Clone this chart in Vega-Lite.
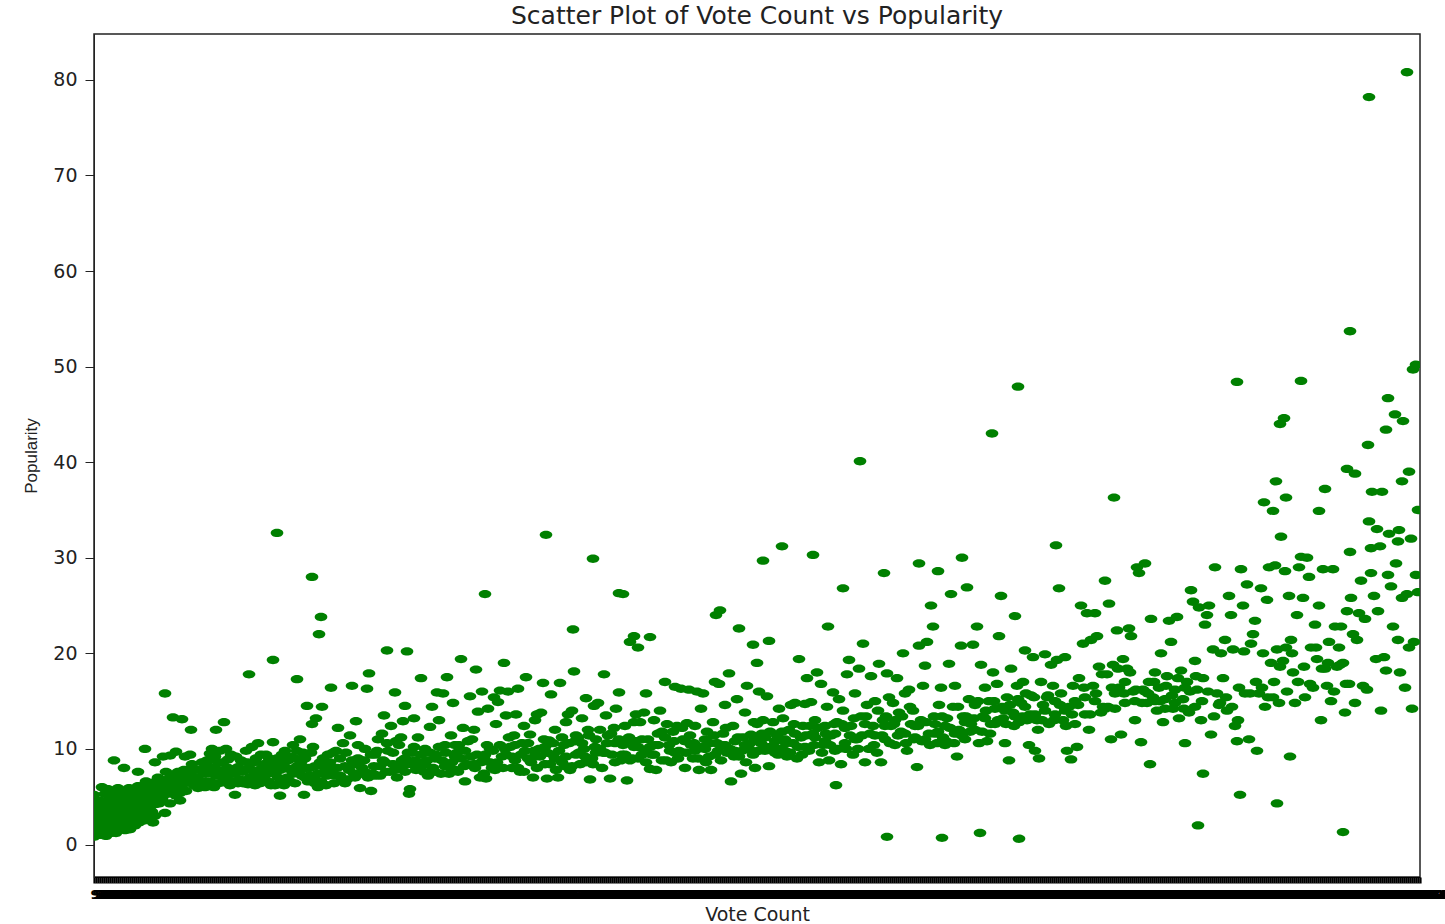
{"$schema":"https://vega.github.io/schema/vega-lite/v6.json","autosize":{"type":"none"},"width":1326,"height":843,"padding":{"left":94,"top":34,"right":25,"bottom":47},"background":"white","title":{"text":"Scatter Plot of Vote Count vs Popularity","font":"DejaVu Sans","fontSize":25,"fontWeight":"normal","color":"#222","offset":5},"config":{"view":{"stroke":"#222","strokeWidth":1.5}},"data":{"values":[
{"x":1407,"y":80.8},{"x":1369,"y":78.2},{"x":1350,"y":53.7},{"x":1416,"y":50.2},{"x":1413,"y":49.7},{"x":1388,"y":46.7},{"x":1395,"y":45},{"x":1403,"y":44.3},{"x":1386,"y":43.4},{"x":1368,"y":41.8},{"x":1301,"y":48.5},{"x":1237,"y":48.4},{"x":1018,"y":47.9},{"x":992,"y":43},{"x":860,"y":40.1},{"x":1284,"y":44.6},{"x":1280,"y":44},{"x":1409,"y":39},{"x":1347,"y":39.3},{"x":1355,"y":38.8},{"x":1402,"y":38},{"x":1276,"y":38},{"x":1114,"y":36.3},{"x":1286,"y":36.3},{"x":1264,"y":35.8},{"x":1273,"y":34.9},{"x":1319,"y":34.9},{"x":1325,"y":37.2},{"x":1372,"y":36.9},{"x":1382,"y":36.9},{"x":1418,"y":35},{"x":1369,"y":33.8},{"x":1377,"y":33},{"x":1389,"y":32.5},{"x":1399,"y":32.9},{"x":1411,"y":32},{"x":1398,"y":31.7},{"x":1380,"y":31.2},{"x":1371,"y":31},{"x":1350,"y":30.6},{"x":277,"y":32.6},{"x":546,"y":32.4},{"x":593,"y":29.9},{"x":782,"y":31.2},{"x":763,"y":29.7},{"x":813,"y":30.3},{"x":1056,"y":31.3},{"x":962,"y":30},{"x":919,"y":29.4},{"x":884,"y":28.4},{"x":938,"y":28.6},{"x":843,"y":26.8},{"x":312,"y":28},{"x":321,"y":23.8},{"x":319,"y":22},{"x":485,"y":26.2},{"x":619,"y":26.3},{"x":623,"y":26.2},{"x":573,"y":22.5},{"x":630,"y":21.2},{"x":634,"y":21.8},{"x":650,"y":21.7},{"x":638,"y":20.6},{"x":720,"y":24.5},{"x":716,"y":24},{"x":739,"y":22.6},{"x":769,"y":21.3},{"x":753,"y":20.9},{"x":828,"y":22.8},{"x":757,"y":19},{"x":273,"y":19.3},{"x":249,"y":17.8},{"x":297,"y":17.3},{"x":387,"y":20.3},{"x":407,"y":20.2},{"x":165,"y":15.8},{"x":173,"y":13.3},{"x":182,"y":13.1},{"x":191,"y":12},{"x":224,"y":12.8},{"x":216,"y":12},{"x":145,"y":10},{"x":114,"y":8.8},{"x":124,"y":8},{"x":138,"y":7.6},{"x":155,"y":8.6},{"x":163,"y":9.2},{"x":170,"y":9.3},{"x":176,"y":9.7},{"x":185,"y":9.2},{"x":190,"y":9.4},
{"x":887,"y":0.8},{"x":942,"y":0.7},{"x":980,"y":1.2},{"x":1019,"y":0.6},{"x":1198,"y":2},{"x":1343,"y":1.3},{"x":1277,"y":4.3},{"x":1240,"y":5.2},{"x":1203,"y":7.4},{"x":1290,"y":9.2},{"x":1150,"y":8.4},{"x":836,"y":6.2},
{"x":94,"y":5.2},{"x":94,"y":0.8},{"x":94,"y":1.5},{"x":94,"y":2.3},{"x":94,"y":3.1},{"x":94,"y":3.8},{"x":98,"y":1},{"x":98,"y":1.8},{"x":98,"y":2.6},{"x":98,"y":3.4},{"x":98,"y":4.2},{"x":102,"y":6},{"x":102,"y":1},{"x":102,"y":1.7},{"x":102,"y":2.6},{"x":102,"y":3.5},{"x":104,"y":4.4},{"x":106,"y":0.9},{"x":107,"y":2},{"x":107,"y":3},{"x":107,"y":3.9},{"x":108,"y":5.8},{"x":110,"y":4.8},{"x":111,"y":1.2},{"x":112,"y":2.4},{"x":112,"y":3.4},{"x":114,"y":5.4},{"x":116,"y":1.2},{"x":116,"y":2.1},{"x":116,"y":3.1},{"x":116,"y":4.1},{"x":118,"y":5.9},{"x":120,"y":1.6},{"x":121,"y":2.7},{"x":121,"y":3.6},{"x":122,"y":4.7},{"x":124,"y":5.5},{"x":125,"y":1.5},{"x":126,"y":2.2},{"x":126,"y":3.2},{"x":127,"y":4.2},{"x":129,"y":5.9},{"x":130,"y":1.6},{"x":131,"y":2.6},{"x":131,"y":3.7},{"x":132,"y":4.8},{"x":134,"y":5.6},{"x":135,"y":2},{"x":136,"y":3},{"x":136,"y":4.2},{"x":138,"y":6.1},{"x":139,"y":2.3},{"x":140,"y":3.4},{"x":141,"y":5},{"x":142,"y":4.2},{"x":144,"y":2.5},{"x":145,"y":3.2},{"x":145,"y":5.9},{"x":146,"y":6.6},{"x":148,"y":4.4},{"x":149,"y":2.6},{"x":150,"y":3.6},{"x":151,"y":5.2},{"x":152,"y":6.3},{"x":153,"y":2.3},{"x":155,"y":4.2},{"x":155,"y":3},{"x":157,"y":5.5},{"x":158,"y":7},{"x":160,"y":6.3},{"x":162,"y":4.8},{"x":165,"y":3.3},{"x":165,"y":6},{"x":166,"y":7.6},{"x":168,"y":5.3},{"x":170,"y":4.3},{"x":172,"y":6.4},{"x":174,"y":7.3},{"x":176,"y":5.1},{"x":178,"y":6},{"x":180,"y":4.6},{"x":182,"y":6.8},{"x":184,"y":7.8},{"x":186,"y":5.6},{"x":188,"y":6.5},{"x":190,"y":7.5},{"x":192,"y":8.4},{"x":194,"y":6.2},{"x":196,"y":7},{"x":198,"y":5.9},{"x":200,"y":7.8},{"x":202,"y":8.6},{"x":204,"y":6.6},{"x":206,"y":7.4},{"x":208,"y":8.2},{"x":210,"y":9.5},{"x":212,"y":10},{"x":214,"y":6},{"x":216,"y":7.2},{"x":218,"y":8.6},{"x":220,"y":9.8},{"x":222,"y":6.5},{"x":224,"y":7.8},{"x":226,"y":10},{"x":228,"y":8.9},{"x":230,"y":6.2},{"x":232,"y":7.4},{"x":235,"y":5.2},{"x":236,"y":9.2},{"x":238,"y":8.1},{"x":240,"y":6.8},{"x":243,"y":7.6},{"x":246,"y":9.8},{"x":248,"y":6.3},{"x":250,"y":8.5},{"x":252,"y":10.2},{"x":254,"y":7.2},{"x":256,"y":9},{"x":258,"y":10.6},{"x":260,"y":6.4},{"x":262,"y":8},{"x":264,"y":7},{"x":266,"y":9.4},{"x":268,"y":6.6},{"x":270,"y":8.3},{"x":273,"y":10.7},{"x":275,"y":7.4},{"x":277,"y":9},{"x":280,"y":5.1},{"x":281,"y":6.5},{"x":283,"y":8.4},{"x":285,"y":9.8},{"x":287,"y":7},{"x":289,"y":7.9},{"x":291,"y":9.2},{"x":293,"y":10.4},{"x":295,"y":6.4},{"x":297,"y":8.2},{"x":300,"y":11},{"x":302,"y":7.2},{"x":304,"y":5.2},{"x":305,"y":9},{"x":307,"y":14.5},{"x":308,"y":6.6},{"x":310,"y":8},{"x":312,"y":12.6},{"x":314,"y":7},{"x":316,"y":13.2},{"x":318,"y":6},{"x":320,"y":8.6},{"x":322,"y":14.4},{"x":324,"y":7.4},{"x":326,"y":6.2},{"x":328,"y":9.4},{"x":331,"y":16.4},{"x":332,"y":7.8},{"x":334,"y":6.4},{"x":336,"y":9.8},{"x":338,"y":12.2},{"x":340,"y":7.2},{"x":343,"y":10.6},{"x":345,"y":8.2},{"x":347,"y":6.8},{"x":350,"y":11.4},{"x":352,"y":16.6},{"x":354,"y":7.4},{"x":356,"y":12.9},{"x":358,"y":9},{"x":360,"y":5.9},{"x":362,"y":8},{"x":365,"y":10},{"x":367,"y":16.3},{"x":369,"y":17.9},{"x":371,"y":5.6},{"x":373,"y":7.4},{"x":375,"y":9.4},{"x":378,"y":11},{"x":380,"y":8.2},{"x":382,"y":11.6},{"x":384,"y":13.5},{"x":386,"y":7.6},{"x":388,"y":9.8},{"x":391,"y":12.4},{"x":393,"y":8.4},{"x":395,"y":15.9},{"x":397,"y":7},{"x":399,"y":10.4},{"x":401,"y":11.2},{"x":403,"y":12.9},{"x":405,"y":14.5},{"x":407,"y":8.4},{"x":409,"y":5.3},{"x":410,"y":5.8},{"x":412,"y":9.6},{"x":414,"y":13.2},{"x":416,"y":7.8},{"x":418,"y":11.2},{"x":421,"y":17.4},{"x":423,"y":8.6},{"x":425,"y":10},{"x":428,"y":7.2},{"x":430,"y":12.3},{"x":432,"y":14.4},{"x":435,"y":9},{"x":437,"y":15.9},{"x":439,"y":13},{"x":441,"y":7.4},{"x":443,"y":15.8},{"x":445,"y":10.4},{"x":447,"y":17.5},{"x":449,"y":8.2},{"x":451,"y":11.4},{"x":453,"y":14.8},{"x":455,"y":7.8},{"x":457,"y":9.6},{"x":459,"y":10.4},{"x":461,"y":19.4},{"x":463,"y":12.2},{"x":465,"y":6.6},{"x":467,"y":8.4},{"x":470,"y":15.5},{"x":472,"y":11},{"x":474,"y":12},{"x":476,"y":18.3},{"x":478,"y":13.9},{"x":480,"y":7},{"x":482,"y":16},{"x":484,"y":9},{"x":486,"y":6.9},{"x":488,"y":14.2},{"x":490,"y":10},{"x":492,"y":8},{"x":494,"y":15.4},{"x":496,"y":12.6},{"x":498,"y":14.9},{"x":500,"y":16.1},{"x":502,"y":9.2},{"x":504,"y":19},{"x":506,"y":13.5},{"x":508,"y":16},{"x":510,"y":10.2},{"x":512,"y":8},{"x":514,"y":11.4},{"x":516,"y":13.6},{"x":518,"y":16.3},{"x":520,"y":7.6},{"x":522,"y":10.6},{"x":524,"y":12.4},{"x":526,"y":17.5},{"x":528,"y":9},{"x":530,"y":11.5},{"x":533,"y":7},{"x":535,"y":13},{"x":537,"y":13.6},{"x":539,"y":10},{"x":541,"y":13.8},{"x":543,"y":16.9},{"x":545,"y":8.4},{"x":547,"y":6.9},{"x":549,"y":10.9},{"x":551,"y":15.7},{"x":553,"y":9.4},{"x":555,"y":12},{"x":558,"y":7},{"x":560,"y":16.9},{"x":562,"y":8.6},{"x":564,"y":10.4},{"x":566,"y":12.8},{"x":568,"y":13.6},{"x":570,"y":7.8},{"x":572,"y":14},{"x":574,"y":18.1},{"x":576,"y":9.4},{"x":578,"y":11.2},{"x":580,"y":8.4},{"x":582,"y":13.2},{"x":584,"y":10},{"x":586,"y":15.3},{"x":588,"y":12},{"x":590,"y":6.8},{"x":592,"y":9},{"x":594,"y":14.5},{"x":596,"y":11},{"x":598,"y":14.8},{"x":600,"y":10},{"x":602,"y":8},{"x":604,"y":17.8},{"x":606,"y":13.5},{"x":608,"y":11.4},{"x":610,"y":6.9},{"x":612,"y":9.4},{"x":614,"y":12.2},{"x":616,"y":14.2},{"x":619,"y":15.9},{"x":621,"y":8.8},{"x":623,"y":10.4},{"x":625,"y":12.4},{"x":627,"y":6.7},{"x":629,"y":11.2},{"x":632,"y":9},{"x":634,"y":12.8},{"x":636,"y":13.6},{"x":638,"y":10.2},{"x":640,"y":12.8},{"x":642,"y":9.4},{"x":644,"y":13.8},{"x":646,"y":15.8},{"x":648,"y":11},{"x":650,"y":7.9},{"x":652,"y":9.4},{"x":654,"y":13},{"x":656,"y":7.8},{"x":658,"y":11.6},{"x":660,"y":14},{"x":662,"y":8.8},{"x":665,"y":17},{"x":667,"y":12.6},{"x":669,"y":10.4},{"x":671,"y":8.6},{"x":673,"y":11.8},{"x":675,"y":16.5},{"x":677,"y":12.4},{"x":679,"y":9.8},{"x":681,"y":16.3},{"x":683,"y":11},{"x":685,"y":8},{"x":687,"y":12.7},{"x":689,"y":16.2},{"x":691,"y":10.4},{"x":693,"y":9},{"x":695,"y":12.4},{"x":697,"y":16},{"x":699,"y":7.8},{"x":701,"y":14.2},{"x":703,"y":15.8},{"x":705,"y":10},{"x":707,"y":11.8},{"x":709,"y":9.2},{"x":711,"y":7.8},{"x":713,"y":12.8},{"x":715,"y":17},{"x":717,"y":10.6},{"x":719,"y":16.8},{"x":721,"y":8.8},{"x":723,"y":11.6},{"x":725,"y":14.6},{"x":727,"y":9.6},{"x":729,"y":17.9},{"x":731,"y":6.6},{"x":733,"y":12.4},{"x":735,"y":10.8},{"x":737,"y":15.2},{"x":739,"y":9.2},{"x":741,"y":7.4},{"x":743,"y":11.2},{"x":745,"y":13.8},{"x":747,"y":16.6},{"x":749,"y":10},{"x":751,"y":11.5},{"x":753,"y":9.4},{"x":755,"y":8},{"x":757,"y":12.6},{"x":759,"y":16},{"x":761,"y":10.6},{"x":763,"y":13},{"x":765,"y":11.2},{"x":767,"y":15.5},{"x":769,"y":8.2},{"x":771,"y":10.2},{"x":773,"y":12.8},{"x":775,"y":9.6},{"x":777,"y":11.4},{"x":779,"y":14.2},{"x":781,"y":10},{"x":783,"y":13.2},{"x":785,"y":11},{"x":787,"y":9.2},{"x":789,"y":12},{"x":791,"y":14.6},{"x":793,"y":10.6},{"x":795,"y":14.8},{"x":797,"y":9},{"x":799,"y":19.4},{"x":801,"y":11.2},{"x":803,"y":12.4},{"x":805,"y":14.7},{"x":807,"y":17.4},{"x":809,"y":9.8},{"x":811,"y":14.9},{"x":813,"y":11.6},{"x":815,"y":13},{"x":817,"y":18},{"x":819,"y":8.6},{"x":821,"y":16.8},{"x":823,"y":10.4},{"x":825,"y":12.4},{"x":827,"y":14.4},{"x":829,"y":8.8},{"x":831,"y":11.4},{"x":833,"y":15.9},{"x":835,"y":9.8},{"x":837,"y":12.8},{"x":839,"y":15.2},{"x":841,"y":8.4},{"x":843,"y":14},{"x":845,"y":10.6},{"x":847,"y":17.8},{"x":849,"y":19.3},{"x":851,"y":12.4},{"x":853,"y":9.4},{"x":855,"y":15.8},{"x":857,"y":11},{"x":859,"y":18.4},{"x":861,"y":13.4},{"x":863,"y":21},{"x":865,"y":8.6},{"x":867,"y":14.6},{"x":869,"y":10},{"x":871,"y":17.6},{"x":873,"y":12.4},{"x":875,"y":15},{"x":877,"y":9.6},{"x":879,"y":18.9},{"x":881,"y":8.6},{"x":883,"y":13},{"x":885,"y":11},{"x":887,"y":17.9},{"x":889,"y":15.4},{"x":891,"y":12.4},{"x":893,"y":14.8},{"x":895,"y":10.4},{"x":897,"y":17.4},{"x":899,"y":13.8},{"x":901,"y":11.8},{"x":903,"y":20},{"x":905,"y":15.8},{"x":907,"y":9.8},{"x":909,"y":16.2},{"x":911,"y":12.6},{"x":913,"y":14},{"x":915,"y":11.2},{"x":917,"y":8.1},{"x":919,"y":20.8},{"x":921,"y":13},{"x":923,"y":16.6},{"x":925,"y":18.7},{"x":927,"y":21.2},{"x":929,"y":11.6},{"x":931,"y":25},{"x":933,"y":22.8},{"x":935,"y":12.6},{"x":937,"y":10.6},{"x":939,"y":14.6},{"x":941,"y":16.4},{"x":943,"y":11.2},{"x":945,"y":10.4},{"x":947,"y":13.2},{"x":949,"y":18.9},{"x":951,"y":26.2},{"x":953,"y":14.4},{"x":955,"y":16.6},{"x":957,"y":9.2},{"x":959,"y":12},{"x":961,"y":20.8},{"x":963,"y":13.4},{"x":965,"y":11},{"x":967,"y":26.9},{"x":969,"y":15.2},{"x":971,"y":12.6},{"x":973,"y":20.9},{"x":975,"y":14.6},{"x":977,"y":22.8},{"x":979,"y":10.6},{"x":981,"y":18.8},{"x":983,"y":13.4},{"x":985,"y":16.4},{"x":987,"y":10.8},{"x":989,"y":15},{"x":991,"y":12.6},{"x":993,"y":18},{"x":995,"y":14.2},{"x":997,"y":16.8},{"x":999,"y":21.8},{"x":1001,"y":26},{"x":1003,"y":13.2},{"x":1005,"y":10.6},{"x":1007,"y":15.4},{"x":1009,"y":8.8},{"x":1011,"y":18.4},{"x":1013,"y":13.8},{"x":1015,"y":23.9},{"x":1017,"y":16.6},{"x":1019,"y":12.8},{"x":1021,"y":14.8},{"x":1023,"y":17},{"x":1025,"y":20.3},{"x":1027,"y":13},{"x":1029,"y":10.4},{"x":1031,"y":15.6},{"x":1033,"y":19.6},{"x":1035,"y":9.8},{"x":1037,"y":13},{"x":1039,"y":9},{"x":1041,"y":17},{"x":1043,"y":14.6},{"x":1045,"y":19.9},{"x":1047,"y":15.4},{"x":1049,"y":12.6},{"x":1051,"y":18.8},{"x":1053,"y":16.6},{"x":1055,"y":13.6},{"x":1057,"y":19.3},{"x":1059,"y":26.8},{"x":1061,"y":15.8},{"x":1063,"y":13},{"x":1065,"y":19.6},{"x":1067,"y":9.8},{"x":1069,"y":14.4},{"x":1071,"y":8.9},{"x":1073,"y":16.6},{"x":1075,"y":12.6},{"x":1077,"y":10.2},{"x":1079,"y":17.4},{"x":1081,"y":25},{"x":1083,"y":21},{"x":1085,"y":15.4},{"x":1087,"y":24.2},{"x":1089,"y":12},{"x":1091,"y":21.4},{"x":1093,"y":16.6},{"x":1095,"y":24.2},{"x":1097,"y":21.8},{"x":1099,"y":18.6},{"x":1101,"y":13.8},{"x":1103,"y":14.4},{"x":1105,"y":27.6},{"x":1107,"y":17.8},{"x":1109,"y":25.2},{"x":1111,"y":11},{"x":1113,"y":18.8},{"x":1115,"y":14.2},{"x":1117,"y":22.4},{"x":1119,"y":16.4},{"x":1121,"y":11.5},{"x":1123,"y":19.4},{"x":1125,"y":14.8},{"x":1127,"y":18.4},{"x":1129,"y":22.6},{"x":1131,"y":21.8},{"x":1133,"y":16},{"x":1135,"y":13},{"x":1137,"y":29},{"x":1139,"y":28.4},{"x":1141,"y":10.7},{"x":1143,"y":16.2},{"x":1145,"y":29.4},{"x":1147,"y":14.8},{"x":1149,"y":17},{"x":1151,"y":23.6},{"x":1153,"y":15.4},{"x":1155,"y":18},{"x":1157,"y":14},{"x":1159,"y":16.4},{"x":1161,"y":20},{"x":1163,"y":12.8},{"x":1165,"y":15.2},{"x":1167,"y":17.6},{"x":1169,"y":23.4},{"x":1171,"y":21.2},{"x":1173,"y":14.2},{"x":1175,"y":16.2},{"x":1177,"y":23.8},{"x":1179,"y":13.2},{"x":1181,"y":18.2},{"x":1183,"y":15.2},{"x":1185,"y":10.6},{"x":1187,"y":17},{"x":1189,"y":13.8},{"x":1191,"y":26.6},{"x":1193,"y":25.4},{"x":1195,"y":19.2},{"x":1197,"y":16.2},{"x":1199,"y":24.8},{"x":1201,"y":13},{"x":1203,"y":17.4},{"x":1205,"y":23},{"x":1207,"y":24},{"x":1209,"y":25},{"x":1211,"y":11.5},{"x":1213,"y":20.4},{"x":1215,"y":29},{"x":1217,"y":15.8},{"x":1219,"y":14.6},{"x":1221,"y":20},{"x":1223,"y":17.4},{"x":1225,"y":21.4},{"x":1227,"y":14},{"x":1229,"y":26},{"x":1231,"y":24},{"x":1233,"y":20.4},{"x":1235,"y":12.4},{"x":1237,"y":10.8},{"x":1239,"y":16.4},{"x":1241,"y":28.8},{"x":1243,"y":25},{"x":1245,"y":15.8},{"x":1247,"y":27.2},{"x":1249,"y":11},{"x":1251,"y":21},{"x":1253,"y":22},{"x":1255,"y":23.4},{"x":1257,"y":9.8},{"x":1259,"y":15.8},{"x":1261,"y":26.8},{"x":1263,"y":20},{"x":1265,"y":14.4},{"x":1267,"y":25.6},{"x":1269,"y":29},{"x":1271,"y":19},{"x":1273,"y":15.4},{"x":1275,"y":29.2},{"x":1277,"y":20.4},{"x":1279,"y":14.8},{"x":1281,"y":32.2},{"x":1283,"y":19.2},{"x":1285,"y":28.6},{"x":1287,"y":16},{"x":1289,"y":26},{"x":1291,"y":21.4},{"x":1293,"y":18},{"x":1295,"y":14.8},{"x":1297,"y":24},{"x":1299,"y":29},{"x":1301,"y":30.1},{"x":1303,"y":25.8},{"x":1305,"y":15.4},{"x":1307,"y":30},{"x":1309,"y":28},{"x":1311,"y":20.6},{"x":1313,"y":16.4},{"x":1315,"y":23},{"x":1317,"y":19.4},{"x":1319,"y":25},{"x":1321,"y":13},{"x":1323,"y":28.8},{"x":1325,"y":18.4},{"x":1327,"y":16.6},{"x":1329,"y":21.2},{"x":1331,"y":15},{"x":1333,"y":28.8},{"x":1335,"y":22.8},{"x":1337,"y":18.6},{"x":1339,"y":20.6},{"x":1341,"y":22.8},{"x":1343,"y":19},{"x":1345,"y":13.8},{"x":1347,"y":24.4},{"x":1349,"y":16.8},{"x":1351,"y":25.8},{"x":1353,"y":22},{"x":1355,"y":14.8},{"x":1357,"y":21.4},{"x":1359,"y":24.2},{"x":1361,"y":27.6},{"x":1363,"y":16.6},{"x":1365,"y":23.6},{"x":1367,"y":16.2},{"x":1371,"y":28.4},{"x":1374,"y":26},{"x":1376,"y":19.4},{"x":1378,"y":24.4},{"x":1381,"y":14},{"x":1384,"y":19.6},{"x":1386,"y":18.2},{"x":1388,"y":28.2},{"x":1391,"y":27},{"x":1393,"y":22.8},{"x":1396,"y":29.4},{"x":1398,"y":21.4},{"x":1400,"y":18},{"x":1402,"y":25.8},{"x":1405,"y":16.4},{"x":1407,"y":26.2},{"x":1409,"y":20.6},{"x":1412,"y":14.2},{"x":1414,"y":21.2},{"x":1416,"y":28.2},{"x":1418,"y":26.4},
{"x":205,"y":6},{"x":215,"y":8},{"x":225,"y":6.8},{"x":235,"y":7.4},{"x":245,"y":6.6},{"x":255,"y":6.2},{"x":265,"y":7.8},{"x":275,"y":6.2},{"x":285,"y":6.8},{"x":295,"y":7.6},{"x":305,"y":7},{"x":315,"y":8.2},{"x":325,"y":8},{"x":335,"y":7.2},{"x":345,"y":6.4},{"x":355,"y":8.4},{"x":365,"y":7.6},{"x":375,"y":7.2},{"x":385,"y":8.6},{"x":395,"y":7.8},{"x":405,"y":9},{"x":415,"y":8.8},{"x":425,"y":8.4},{"x":435,"y":7.6},{"x":445,"y":8.2},{"x":455,"y":9.2},{"x":465,"y":9.8},{"x":475,"y":8},{"x":485,"y":9.4},{"x":495,"y":7.8},{"x":505,"y":10},{"x":515,"y":8.8},{"x":525,"y":9.8},{"x":535,"y":9.2},{"x":545,"y":10.2},{"x":555,"y":9},{"x":565,"y":8.2},{"x":575,"y":10.8},{"x":585,"y":9.2},{"x":595,"y":10.2},{"x":605,"y":9.6},{"x":615,"y":10.6},{"x":625,"y":9.4},{"x":635,"y":10.8},{"x":645,"y":9.8},{"x":655,"y":10.4},{"x":665,"y":11.2},{"x":675,"y":9.6},{"x":685,"y":10.8},{"x":695,"y":9.8},{"x":705,"y":11},{"x":715,"y":9.4},{"x":725,"y":10.4},{"x":735,"y":9.8},{"x":745,"y":10.4},{"x":755,"y":11},{"x":765,"y":9.8},{"x":775,"y":10.8},{"x":785,"y":9.8},{"x":795,"y":11.6},{"x":805,"y":10.2},{"x":815,"y":11.2},{"x":825,"y":10.8},{"x":835,"y":11.6},{"x":845,"y":12.2},{"x":855,"y":11},{"x":865,"y":12.6},{"x":875,"y":11.4},{"x":885,"y":12.4},{"x":895,"y":13},{"x":905,"y":11.6},{"x":915,"y":12.4},{"x":925,"y":11},{"x":935,"y":11.6},{"x":945,"y":12.4},{"x":955,"y":11.6},{"x":965,"y":12.8},{"x":975,"y":12},{"x":985,"y":13.2},{"x":995,"y":12.6},{"x":1005,"y":14},{"x":1015,"y":13.4},{"x":1025,"y":14.4},{"x":1035,"y":13.6},{"x":1045,"y":14},{"x":1055,"y":15},{"x":1065,"y":14},{"x":1075,"y":15},{"x":1085,"y":13.6},{"x":1095,"y":15},{"x":1105,"y":14.2},{"x":1115,"y":15.8},{"x":1125,"y":17},{"x":1135,"y":15},{"x":1145,"y":16},{"x":1155,"y":15},{"x":1165,"y":14.2},{"x":1175,"y":14.8},{"x":1185,"y":16.4},{"x":1195,"y":14.4},
{"x":96,"y":1.4},{"x":96,"y":2.2},{"x":96,"y":3},{"x":96,"y":3.8},{"x":100,"y":1.4},{"x":100,"y":2.2},{"x":100,"y":3},{"x":100,"y":3.8},{"x":100,"y":4.6},{"x":104,"y":1.4},{"x":104,"y":2.2},{"x":104,"y":3},{"x":104,"y":3.8},{"x":105,"y":5.3},{"x":109,"y":1.5},{"x":109,"y":2.5},{"x":109,"y":3.5},{"x":109,"y":4.2},{"x":113,"y":1.6},{"x":113,"y":2.8},{"x":114,"y":3.8},{"x":114,"y":4.6},{"x":118,"y":1.7},{"x":118,"y":2.6},{"x":119,"y":3.5},{"x":119,"y":4.4},{"x":120,"y":5.2},{"x":123,"y":2},{"x":123,"y":3},{"x":124,"y":3.9},{"x":124,"y":4.8},{"x":128,"y":2.1},{"x":128,"y":2.9},{"x":129,"y":3.7},{"x":129,"y":4.6},{"x":130,"y":5.3},{"x":133,"y":2.1},{"x":133,"y":3.1},{"x":134,"y":4.1},{"x":135,"y":5},{"x":137,"y":2.6},{"x":138,"y":3.6},{"x":139,"y":4.6},{"x":140,"y":5.5},{"x":142,"y":2.8},{"x":143,"y":3.7},{"x":144,"y":4.8},{"x":146,"y":5.6},{"x":147,"y":3.2},{"x":147,"y":4},{"x":149,"y":5},{"x":150,"y":6},{"x":152,"y":3.4},{"x":153,"y":4.6},{"x":155,"y":5.8},{"x":156,"y":6.6},{"x":159,"y":4.3},{"x":160,"y":5.2},{"x":163,"y":5.7},{"x":164,"y":6.7},{"x":168,"y":6.3},{"x":170,"y":5.6},{"x":170,"y":7},{"x":174,"y":5.8},{"x":176,"y":6.7},{"x":178,"y":7.6},{"x":180,"y":5.4},{"x":182,"y":6.2},{"x":185,"y":7},{"x":188,"y":7.8},{"x":192,"y":6.8},{"x":195,"y":7.8},{"x":198,"y":6.8},{"x":201,"y":6.3},{"x":203,"y":7.6},{"x":207,"y":8.8},{"x":210,"y":6.6},{"x":212,"y":7.6},{"x":215,"y":9.2},{"x":218,"y":6.4},{"x":220,"y":7.5},{"x":223,"y":8.6},{"x":226,"y":7},{"x":228,"y":8},{"x":231,"y":9.4},{"x":233,"y":6.6},{"x":236,"y":7.8},{"x":238,"y":6.4},{"x":241,"y":8.8},{"x":243,"y":6.4},{"x":245,"y":7.8},{"x":247,"y":8.6},{"x":250,"y":7},{"x":252,"y":7.8},{"x":254,"y":8.6},{"x":257,"y":6.6},{"x":259,"y":7.6},{"x":261,"y":9.4},{"x":264,"y":8.4},{"x":267,"y":7.4},{"x":269,"y":9},{"x":271,"y":6.2},{"x":273,"y":7.6},{"x":276,"y":8.4},{"x":278,"y":7},{"x":280,"y":7.8},{"x":282,"y":9.4},{"x":284,"y":6.2},{"x":286,"y":8},{"x":288,"y":8.8},{"x":290,"y":6.6},{"x":293,"y":7.4},{"x":295,"y":9},{"x":297,"y":9.8},{"x":299,"y":7.6},{"x":301,"y":8.6},{"x":303,"y":9.6},{"x":306,"y":8},{"x":309,"y":7.2},{"x":311,"y":9.6},{"x":313,"y":10.2},{"x":315,"y":6.4},{"x":318,"y":7.4},{"x":321,"y":6.6},{"x":323,"y":9},{"x":327,"y":7.2},{"x":330,"y":8.6},{"x":333,"y":9.6},{"x":337,"y":8},{"x":340,"y":9},{"x":342,"y":6.8},{"x":346,"y":9.6},{"x":349,"y":7.8},{"x":352,"y":8.8},{"x":355,"y":7},{"x":358,"y":10.4},{"x":361,"y":7.4},{"x":364,"y":8.8},{"x":368,"y":7},{"x":371,"y":9.4},{"x":374,"y":8.2},{"x":377,"y":9.8},{"x":380,"y":7.2},{"x":383,"y":8.8},{"x":387,"y":10.6},{"x":390,"y":7.6},{"x":393,"y":9.6},{"x":396,"y":10.8},{"x":399,"y":8.2},{"x":402,"y":8.8},{"x":405,"y":7.6},{"x":408,"y":9.6},{"x":411,"y":8.4},{"x":414,"y":10.2},{"x":418,"y":8.2},{"x":421,"y":9.4},{"x":424,"y":7.6},{"x":427,"y":8.8},{"x":430,"y":9.6},{"x":433,"y":8},{"x":436,"y":9.4},{"x":439,"y":10.2},{"x":442,"y":8.8},{"x":446,"y":9.6},{"x":449,"y":7.4},{"x":452,"y":8.6},{"x":455,"y":10.4},{"x":458,"y":7.6},{"x":461,"y":9},{"x":464,"y":8.2},{"x":468,"y":10.8},{"x":471,"y":9.2},{"x":474,"y":8.4},{"x":477,"y":9.4},{"x":481,"y":8.6},{"x":484,"y":7.4},{"x":487,"y":10.4},{"x":490,"y":8.6},{"x":493,"y":9.8},{"x":497,"y":8.6},{"x":500,"y":10.4},{"x":503,"y":8},{"x":506,"y":9.4},{"x":509,"y":11.2},{"x":512,"y":9.2},{"x":515,"y":10.4},{"x":518,"y":8},{"x":521,"y":9.4},{"x":524,"y":7.6},{"x":528,"y":10.6},{"x":531,"y":8.6},{"x":534,"y":9.8},{"x":537,"y":8},{"x":540,"y":9.2},{"x":544,"y":11},{"x":547,"y":9.6},{"x":550,"y":8.4},{"x":553,"y":10.6},{"x":556,"y":7.8},{"x":559,"y":9.8},{"x":562,"y":11.2},{"x":566,"y":9.2},{"x":569,"y":10.6},{"x":572,"y":8.2},{"x":576,"y":11.4},{"x":579,"y":9.6},{"x":582,"y":10.6},{"x":586,"y":8.6},{"x":589,"y":11.4},{"x":593,"y":8.4},{"x":596,"y":9.6},{"x":600,"y":12},{"x":603,"y":9.6},{"x":607,"y":10.6},{"x":611,"y":11.6},{"x":615,"y":8.6},{"x":619,"y":11},{"x":622,"y":9.4},{"x":626,"y":10.8},{"x":630,"y":8.8},{"x":634,"y":10.2},{"x":638,"y":9},{"x":642,"y":11},{"x":646,"y":8.6},{"x":650,"y":10.2},{"x":654,"y":9.4},{"x":658,"y":10.4},{"x":662,"y":11.8},{"x":666,"y":8.8},{"x":670,"y":9.8},{"x":674,"y":10.8},{"x":678,"y":9},{"x":682,"y":12.2},{"x":686,"y":9.6},{"x":690,"y":11.4},{"x":694,"y":10.6},{"x":698,"y":9},{"x":702,"y":10.2},{"x":706,"y":8.6},{"x":710,"y":10.6},{"x":714,"y":11.4},{"x":718,"y":9.8},{"x":722,"y":10.4},{"x":726,"y":12.2},{"x":730,"y":10},{"x":734,"y":9.2},{"x":738,"y":11.2},{"x":742,"y":9.8},{"x":746,"y":8.6},{"x":750,"y":10.6},{"x":754,"y":12.8},{"x":758,"y":9.8},{"x":762,"y":11.6},{"x":766,"y":10.2},{"x":770,"y":11.8},{"x":774,"y":10.2},{"x":778,"y":9.4},{"x":782,"y":11.8},{"x":786,"y":10.6},{"x":790,"y":9.6},{"x":794,"y":12.6},{"x":798,"y":10.2},{"x":802,"y":9.4},{"x":806,"y":11.4},{"x":810,"y":12.4},{"x":814,"y":10.4},{"x":818,"y":12.2},{"x":822,"y":9.6},{"x":826,"y":11.6},{"x":830,"y":10.4},{"x":834,"y":12.6},{"x":838,"y":10},{"x":842,"y":12.6},{"x":846,"y":10},{"x":850,"y":11.4},{"x":854,"y":13.2},{"x":858,"y":10},{"x":862,"y":11.4},{"x":866,"y":13.4},{"x":870,"y":11.6},{"x":874,"y":10.4},{"x":878,"y":14},{"x":882,"y":11.4},{"x":886,"y":13.4},{"x":890,"y":10.6},{"x":894,"y":12.6},{"x":898,"y":11.4},{"x":902,"y":13.4},{"x":906,"y":10.6},{"x":910,"y":14.4},{"x":914,"y":11},{"x":918,"y":12.4},{"x":922,"y":10.8},{"x":926,"y":12.8},{"x":930,"y":10.4},{"x":934,"y":13.4},{"x":938,"y":11.8},{"x":942,"y":13.4},{"x":946,"y":10.8},{"x":950,"y":12.2},{"x":954,"y":10.6},{"x":958,"y":14.4},{"x":962,"y":11.4},{"x":966,"y":13.4},{"x":970,"y":11.8},{"x":974,"y":13.2},{"x":978,"y":15},{"x":982,"y":11.8},{"x":986,"y":14},{"x":990,"y":11.6},{"x":994,"y":15},{"x":998,"y":13},{"x":1002,"y":14.4},{"x":1006,"y":12.6},{"x":1010,"y":14.6},{"x":1014,"y":12.4},{"x":1018,"y":15.2},{"x":1022,"y":13.4},{"x":1026,"y":15.8},{"x":1030,"y":13.6},{"x":1034,"y":15.4},{"x":1038,"y":12},{"x":1042,"y":13},{"x":1048,"y":15.6},{"x":1054,"y":13},{"x":1060,"y":14.6},{"x":1066,"y":12.4},{"x":1072,"y":13.6},{"x":1078,"y":14.6},{"x":1084,"y":16.4},{"x":1090,"y":13.6},{"x":1096,"y":15.8},{"x":1102,"y":17.8},{"x":1108,"y":14.4},{"x":1112,"y":16.4},{"x":1118,"y":18.4},{"x":1124,"y":15.8},{"x":1130,"y":18},{"x":1136,"y":16.2},{"x":1142,"y":14.8},{"x":1148,"y":15.8},{"x":1154,"y":17},{"x":1160,"y":15},{"x":1166,"y":16.6},{"x":1172,"y":15.6},{"x":1178,"y":17.4},{"x":1184,"y":14.2},{"x":1190,"y":16},{"x":1196,"y":17.6},{"x":1202,"y":15},{"x":1208,"y":16},{"x":1214,"y":13.4},{"x":1220,"y":14.8},{"x":1226,"y":15.4},{"x":1232,"y":14.4},{"x":1238,"y":13},{"x":1244,"y":20.2},{"x":1250,"y":15.8},{"x":1256,"y":17},{"x":1262,"y":16.4},{"x":1268,"y":15.4},{"x":1274,"y":17},{"x":1280,"y":18.6},{"x":1286,"y":20.6},{"x":1292,"y":20},{"x":1298,"y":17},{"x":1304,"y":18.6},{"x":1310,"y":16.8},{"x":1316,"y":20.6},{"x":1322,"y":18.4},{"x":1328,"y":19},{"x":1334,"y":16},{"x":1340,"y":18.8},{"x":1346,"y":16.8}
]},"mark":{"type":"point","filled":true,"opacity":1,"color":"#008000","size":160,"shape":"M-1,0 a1,0.66 0 1,0 2,0 a1,0.66 0 1,0 -2,0 Z","clip":true},"encoding":{"x":{"field":"x","type":"quantitative","scale":{"domain":[94,1420],"nice":false,"zero":false},"axis":{"title":"Vote Count","titleFont":"DejaVu Sans","titleFontSize":19,"titleFontWeight":"normal","titleColor":"#222","titlePadding":4,"grid":false,"tickCount":700,"tickColor":"#000","tickSize":6,"tickWidth":2.2,"domainColor":"#000","labelFont":"DejaVu Sans","labelFontSize":13,"labelColor":"#000","labelFontWeight":"bold","labelOverlap":false,"labelFlush":false,"labelBound":false,"labelPadding":5,"labelAlign":"left","labelOffset":-4,"format":"d"}},"y":{"field":"y","type":"quantitative","scale":{"domain":[-3.4,84.8],"nice":false,"zero":false},"axis":{"title":"Popularity","titleFont":"Liberation Sans","titleFontSize":17,"titleFontWeight":"normal","titleColor":"#222","titlePadding":12,"grid":false,"values":[0,10,20,30,40,50,60,70,80],"tickColor":"#222","tickSize":9,"domainColor":"#222","labelFont":"DejaVu Sans","labelFontSize":19,"labelColor":"#222","labelPadding":8}}}}
